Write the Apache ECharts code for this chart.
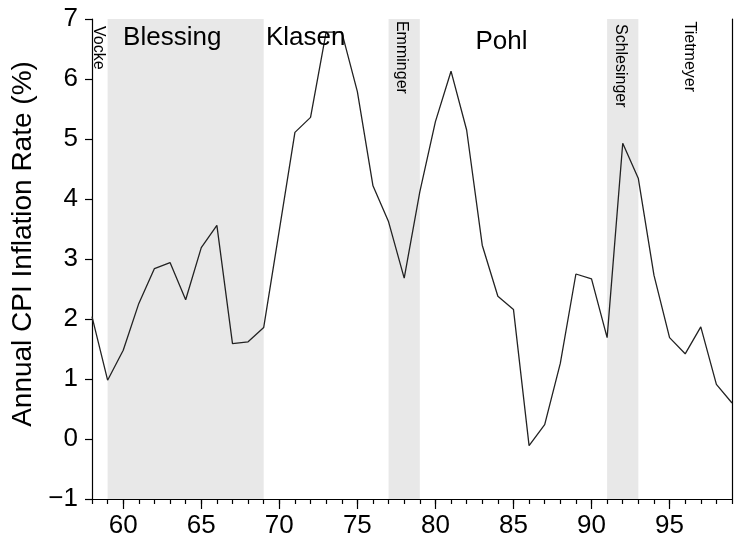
<!DOCTYPE html>
<html>
<head>
<meta charset="utf-8">
<title>Annual CPI Inflation Rate</title>
<script src="https://cdn.jsdelivr.net/npm/echarts@6/dist/echarts.min.js"></script>
<style>
  html, body { margin: 0; padding: 0; background: #fff; }
  #chart { width: 735px; height: 543px; }
</style>
</head>
<body>
<div id="chart"></div>
<script>
// Years (two-digit, 1958-1999)
const years = [58,59,60,61,62,63,64,65,66,67,68,69,70,71,72,73,74,75,76,77,78,
               79,80,81,82,83,84,85,86,87,88,89,90,91,92,93,94,95,96,97,98,99];
// Annual CPI inflation rate, percent
const inflation = [2.04,0.98,1.48,2.26,2.84,2.94,2.32,3.19,3.56,1.59,1.62,1.86,3.48,5.11,5.36,6.78,6.78,5.79,4.22,3.62,2.68,
                   4.12,5.29,6.13,5.15,3.23,2.38,2.16,-0.11,0.24,1.26,2.75,2.67,1.69,4.93,4.34,2.73,1.69,1.42,1.87,0.91,0.60];

// Shaded governor terms (start year, end year)
const shadedStart = [59, 77, 91];
const shadedEnd   = [69, 79, 93];

// Governor names and where each name sits (year, rate level)
const governors   = ['Vocke', 'Blessing', 'Klasen', 'Emminger', 'Pohl', 'Schlesinger', 'Tietmeyer'];
const nameYear    = [58.43, 63.14, 71.69, 77.85, 84.23, 91.87, 96.28];
const nameLevel   = [6.52, 6.68, 6.68, 6.36, 6.62, 6.22, 6.37];
const nameVertical = [true, false, false, true, false, true, true];

// Axis ticks
const yearLabels = [60, 65, 70, 75, 80, 85, 90, 95];

const FONT = '"Liberation Sans", Arial, Helvetica, sans-serif';

const chart = echarts.init(document.getElementById('chart'), null, { renderer: 'canvas' });

const bandData = shadedStart.map((s, i) => [{ xAxis: s }, { xAxis: shadedEnd[i] }]);

const nameData = governors.map((g, i) => ({
  value: [nameYear[i], nameLevel[i]],
  name: g,
  label: nameVertical[i]
    ? { rotate: -90, fontSize: 16 }
    : { rotate: 0, fontSize: 26 }
}));

const axisBlack = { color: '#000', width: 1.2 };

const option = {
  animation: false,
  backgroundColor: '#ffffff',
  grid: { left: 92, right: 3, top: 19, bottom: 44, containLabel: false, outerBoundsMode: 'none' },
  xAxis: [
    {
      // yearly minor ticks
      type: 'value', min: 58, max: 99, position: 'bottom',
      axisLine: { show: true, onZero: false, lineStyle: axisBlack },
      axisTick: { show: true, customValues: years, length: 5, lineStyle: axisBlack },
      axisLabel: { show: false },
      splitLine: { show: false }
    },
    {
      // five-year major ticks with labels
      type: 'value', min: 58, max: 99, position: 'bottom', offset: 0,
      axisLine: { show: true, onZero: false, lineStyle: axisBlack },
      axisTick: { show: true, customValues: yearLabels, length: 10, lineStyle: axisBlack },
      axisLabel: { show: true, customValues: yearLabels, fontSize: 26, color: '#000', fontFamily: FONT, margin: 14 },
      splitLine: { show: false }
    }
  ],
  yAxis: [
    {
      type: 'value', min: -1, max: 7, interval: 1, position: 'left',
      name: 'Annual CPI Inflation Rate (%)',
      nameLocation: 'middle', nameGap: 55, nameRotate: 90,
      nameTextStyle: { fontSize: 28, color: '#000', fontFamily: FONT, padding: [0, 0, 0, 30] },
      axisLine: { show: true, onZero: false, lineStyle: axisBlack },
      axisTick: { show: true, length: 7, lineStyle: axisBlack },
      axisLabel: {
        fontSize: 26, color: '#000', fontFamily: FONT, margin: 14,
        formatter: v => (v < 0 ? '\u2212' + Math.abs(v) : String(v))
      },
      splitLine: { show: false }
    },
    {
      type: 'value', min: -1, max: 7, interval: 1, position: 'right',
      axisLine: { show: true, onZero: false, lineStyle: axisBlack },
      axisTick: { show: false },
      axisLabel: { show: false },
      splitLine: { show: false }
    }
  ],
  series: [
    {
      // shaded terms
      type: 'line', data: [], z: 1, silent: true,
      markArea: {
        silent: true,
        itemStyle: { color: '#e8e8e8' },
        data: bandData
      }
    },
    {
      type: 'line', z: 3, xAxisIndex: 0, yAxisIndex: 0,
      data: years.map((y, i) => [y, inflation[i]]),
      showSymbol: false, symbol: 'none',
      lineStyle: { color: '#222', width: 1.3 },
      silent: true
    },
    {
      // governor names
      type: 'scatter', z: 4, symbolSize: 0, silent: true,
      itemStyle: { opacity: 1 },
      data: nameData,
      label: {
        show: true, position: 'inside', formatter: '{b}',
        color: '#000', opacity: 1, fontFamily: FONT, textBorderWidth: 0,
        align: 'center', verticalAlign: 'middle'
      }
    }
  ]
};

chart.setOption(option);
</script>
</body>
</html>
